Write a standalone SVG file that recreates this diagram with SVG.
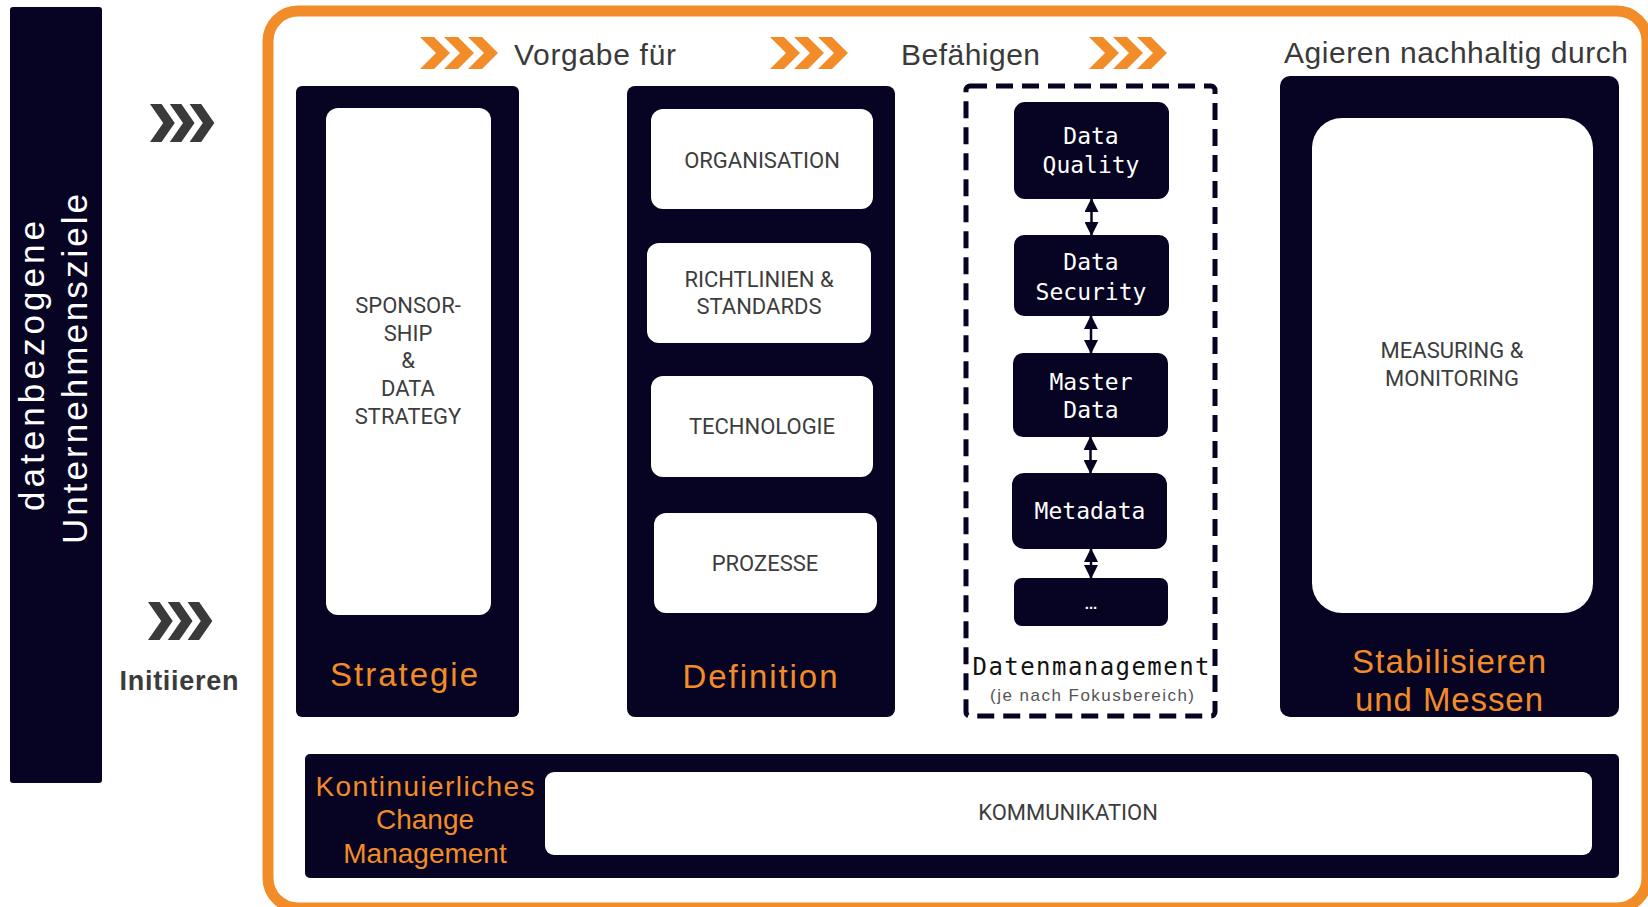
<svg xmlns="http://www.w3.org/2000/svg" width="1648" height="907" viewBox="0 0 1648 907">
<style>
.dark{fill:#070322}
.white{fill:#ffffff}
.cap{font-family:Roboto,"Liberation Sans",sans-serif;font-size:22px;fill:#3d3d3d;text-anchor:middle}
.org{font-family:"Liberation Sans",Arial,sans-serif;fill:#F28C28;text-anchor:middle}
.top{font-family:"Liberation Sans",Arial,sans-serif;font-size:30px;fill:#3a3a3a}
.dm{font-family:"DejaVu Sans Mono","Liberation Mono",monospace;font-size:23px;fill:#ffffff;text-anchor:middle}
.arr{stroke:#070322;stroke-width:2.5;fill:none}
</style>
<defs>
<symbol id="chev" viewBox="0 0 80 32" preserveAspectRatio="none">
<path d="M0 0h14l16 16l-16 16h-14l16-16z M24 0h14l16 16l-16 16h-14l16-16z M48 0h14l16 16l-16 16h-14l16-16z"/>
</symbol>
<marker id="ah" viewBox="0 0 14 14" refX="13" refY="7" markerWidth="14" markerHeight="14" markerUnits="userSpaceOnUse" orient="auto-start-reverse">
<path d="M0 0L14 7L0 14z" fill="#070322"/>
</marker>
</defs>

<!-- left bar -->
<g id="ziele">
<rect x="10" y="7" width="92" height="776" rx="3" class="dark"/>
<text transform="translate(44,366) rotate(-90)" font-family="'Liberation Sans',Arial,sans-serif" font-size="35" fill="#ffffff" text-anchor="middle" textLength="290" lengthAdjust="spacing">datenbezogene</text>
<text transform="translate(87,369) rotate(-90)" font-family="'Liberation Sans',Arial,sans-serif" font-size="35" fill="#ffffff" text-anchor="middle" textLength="350" lengthAdjust="spacing">Unternehmensziele</text>
</g>

<!-- initiieren chevrons -->
<g id="initiieren">
<use href="#chev" x="150" y="104" width="66" height="38" fill="#3a3a3a"/>
<use href="#chev" x="148" y="602" width="66" height="38" fill="#3a3a3a"/>
<text x="179" y="690" font-family="'Liberation Sans',Arial,sans-serif" font-size="27" font-weight="bold" fill="#3b3b3b" text-anchor="middle" textLength="119" lengthAdjust="spacing">Initiieren</text>
</g>

<!-- orange frame -->
<g id="frame">
<rect x="268" y="11" width="1379" height="897" rx="30" fill="none" stroke="#F28C28" stroke-width="11"/>
</g>

<!-- top labels -->
<g id="toplabels">
<use href="#chev" x="420" y="37" width="80" height="32" fill="#F28C28"/>
<text x="514" y="65" class="top" textLength="162" lengthAdjust="spacing">Vorgabe für</text>
<use href="#chev" x="770" y="37" width="80" height="32" fill="#F28C28"/>
<text x="901" y="65" class="top" textLength="139" lengthAdjust="spacing">Befähigen</text>
<use href="#chev" x="1089" y="37" width="80" height="32" fill="#F28C28"/>
<text x="1284" y="63" class="top" textLength="344" lengthAdjust="spacing">Agieren nachhaltig durch</text>
</g>

<!-- Strategie -->
<g id="strategie">
<rect x="296" y="86" width="223" height="631" rx="6" class="dark"/>
<rect x="326" y="108" width="165" height="507" rx="12" class="white"/>
<text class="cap"><tspan x="408" y="313">SPONSOR-</tspan><tspan x="408" y="341">SHIP</tspan><tspan x="408" y="368">&amp;</tspan><tspan x="408" y="396">DATA</tspan><tspan x="408" y="424">STRATEGY</tspan></text>
<text x="404" y="686" class="org" font-size="33" textLength="148" lengthAdjust="spacing">Strategie</text>
</g>

<!-- Definition -->
<g id="definition">
<rect x="627" y="86" width="268" height="631" rx="8" class="dark"/>
<rect x="651" y="109" width="222" height="100" rx="12" class="white"/>
<text x="762" y="168" class="cap">ORGANISATION</text>
<rect x="647" y="243" width="224" height="100" rx="12" class="white"/>
<text class="cap"><tspan x="759" y="287">RICHTLINIEN &amp;</tspan><tspan x="759" y="314">STANDARDS</tspan></text>
<rect x="651" y="376" width="222" height="101" rx="12" class="white"/>
<text x="762" y="434" class="cap">TECHNOLOGIE</text>
<rect x="654" y="513" width="223" height="100" rx="12" class="white"/>
<text x="765" y="571" class="cap">PROZESSE</text>
<text x="760" y="688" class="org" font-size="33" textLength="155" lengthAdjust="spacing">Definition</text>
</g>

<!-- Datenmanagement -->
<g id="datenmanagement">
<rect x="966" y="86" width="249" height="630" rx="4" fill="none" stroke="#070322" stroke-width="5" stroke-dasharray="17 9"/>
<text x="1091" y="675" font-family="'DejaVu Sans Mono','Liberation Mono',monospace" font-size="24" fill="#111111" text-anchor="middle" textLength="237" lengthAdjust="spacing">Datenmanagement</text>
<text x="1092" y="701" font-family="'Liberation Sans',Arial,sans-serif" font-size="17" fill="#555555" text-anchor="middle" textLength="204" lengthAdjust="spacing">(je nach Fokusbereich)</text>
</g>
<g id="dataquality">
<rect x="1014" y="102" width="155" height="97" rx="11" class="dark"/>
<text class="dm"><tspan x="1091" y="144">Data</tspan><tspan x="1091" y="173">Quality</tspan></text>
</g>
<g id="datasecurity">
<rect x="1014" y="235" width="155" height="81" rx="10" class="dark"/>
<text class="dm"><tspan x="1091" y="270">Data</tspan><tspan x="1091" y="300">Security</tspan></text>
</g>
<g id="masterdata">
<rect x="1013" y="353" width="155" height="84" rx="10" class="dark"/>
<text class="dm"><tspan x="1091" y="390">Master</tspan><tspan x="1091" y="418">Data</tspan></text>
</g>
<g id="metadata">
<rect x="1012" y="473" width="155" height="76" rx="12" class="dark"/>
<text x="1090" y="519" class="dm">Metadata</text>
</g>
<g id="more">
<rect x="1014" y="578" width="154" height="48" rx="8" class="dark"/>
<text x="1091" y="609" font-family="'Liberation Sans',Arial,sans-serif" font-size="15" font-weight="bold" fill="#ffffff" text-anchor="middle">...</text>
</g>

<!-- connectors -->
<g id="connectors">
<line x1="1091.5" y1="199" x2="1091.5" y2="235" class="arr" marker-start="url(#ah)" marker-end="url(#ah)"/>
<line x1="1091" y1="316" x2="1091" y2="353" class="arr" marker-start="url(#ah)" marker-end="url(#ah)"/>
<line x1="1090.5" y1="437" x2="1090.5" y2="473" class="arr" marker-start="url(#ah)" marker-end="url(#ah)"/>
<line x1="1091" y1="549" x2="1091" y2="578" class="arr" marker-start="url(#ah)" marker-end="url(#ah)"/>
</g>

<!-- Stabilisieren -->
<g id="stabilisieren">
<rect x="1280" y="76" width="339" height="641" rx="10" class="dark"/>
<rect x="1312" y="118" width="281" height="495" rx="30" class="white"/>
<text class="cap"><tspan x="1452" y="358">MEASURING &amp;</tspan><tspan x="1452" y="386">MONITORING</tspan></text>
<text class="org" font-size="33"><tspan x="1449" y="673" textLength="194" lengthAdjust="spacing">Stabilisieren</tspan><tspan x="1449" y="711" textLength="188" lengthAdjust="spacing">und Messen</tspan></text>
</g>

<!-- Change Management -->
<g id="change">
<rect x="305" y="754" width="1314" height="124" rx="5" class="dark"/>
<rect x="545" y="772" width="1047" height="83" rx="9" class="white"/>
<text x="1068" y="820" class="cap">KOMMUNIKATION</text>
<text class="org" font-size="28"><tspan x="425" y="796" textLength="219" lengthAdjust="spacing">Kontinuierliches</tspan><tspan x="425" y="829">Change</tspan><tspan x="425" y="863">Management</tspan></text>
</g>
</svg>
